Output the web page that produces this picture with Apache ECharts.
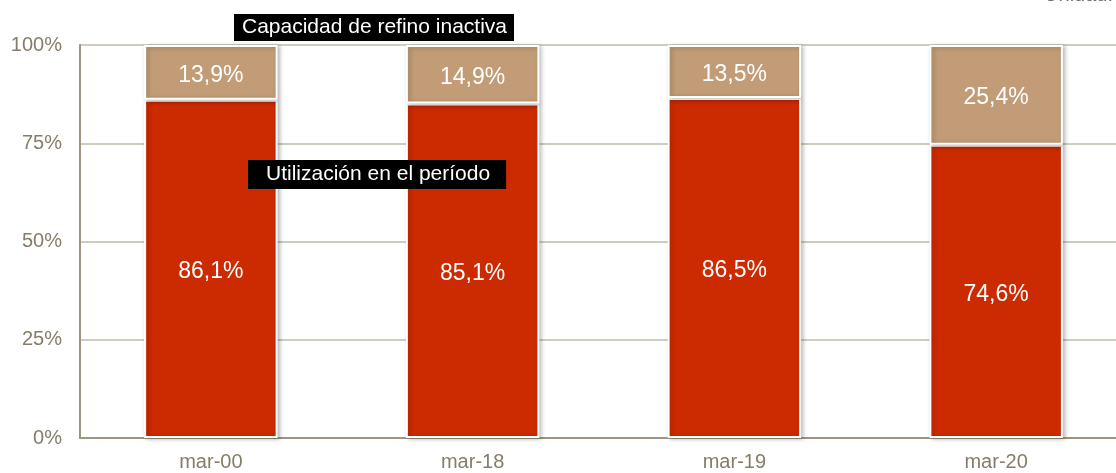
<!DOCTYPE html>
<html>
<head>
<meta charset="utf-8">
<script src="https://cdn.jsdelivr.net/npm/echarts@6/dist/echarts.min.js"></script>
<style>
html,body{margin:0;padding:0;background:#fff;}
#chart{width:1116px;height:473px;}
</style>
</head>
<body>
<div id="chart"></div>
<script>
// Refining capacity usage by period (share of total, %)
const categories = ['mar-00', 'mar-18', 'mar-19', 'mar-20'];
const utilizacion = [86.1, 85.1, 86.5, 74.6];
const inactiva = [13.9, 14.9, 13.5, 25.4];
const yTicks = [0, 25, 50, 75, 100];

const FONT = '"Liberation Sans", Arial, sans-serif';
const fmt = v => v.toFixed(1).replace('.', ',') + '%';

const barStyle = color => ({
  color: color,
  borderColor: '#ffffff',
  borderWidth: 2,
  shadowColor: 'rgba(0,0,0,0.25)',
  shadowBlur: 4,
  shadowOffsetX: 2,
  shadowOffsetY: 1
});

const valueLabel = {
  show: true, position: 'inside', color: '#ffffff', offset: [0, 3],
  fontSize: 23, fontFamily: FONT, formatter: p => fmt(p.value)
};

const chart = echarts.init(document.getElementById('chart'), null, {renderer: 'canvas'});
chart.setOption({
  animation: false,
  backgroundColor: '#ffffff',
  // plot area runs slightly past the right edge of the canvas
  grid: {left: 80, width: 1047, top: 45, bottom: 35, containLabel: false, outerBoundsMode: 'none'},
  xAxis: {
    type: 'category',
    data: categories,
    axisLine: {lineStyle: {color: '#9c957f', width: 2}},
    axisTick: {show: false},
    axisLabel: {color: '#857d69', fontSize: 20, fontFamily: FONT, margin: 14}
  },
  yAxis: {
    type: 'value',
    min: 0, max: 100, interval: 25,
    axisLine: {show: true, lineStyle: {color: '#9c957f', width: 2}},
    axisTick: {show: false},
    splitLine: {lineStyle: {color: '#cfcbc0', width: 2}},
    axisLabel: {
      color: '#857d69', fontSize: 20, fontFamily: FONT, margin: 18,
      formatter: v => yTicks.includes(v) ? v + '%' : ''
    }
  },
  series: [
    {
      name: 'Utilización en el período',
      type: 'bar',
      stack: 'total',
      barWidth: '51%',
      data: utilizacion,
      itemStyle: barStyle('#cc2a00'),
      label: valueLabel
    },
    {
      name: 'Capacidad de refino inactiva',
      type: 'bar',
      stack: 'total',
      barWidth: '51%',
      data: inactiva,
      itemStyle: barStyle('#c19c76'),
      label: valueLabel
    }
  ],
  graphic: [
    {
      type: 'text', left: 234, top: 14, z: 100,
      style: {text: 'Capacidad de refino inactiva', fill: '#ffffff', font: '21px ' + FONT,
        backgroundColor: '#000000', padding: [3, 7, 3, 8]}
    },
    {
      type: 'text', left: 248, top: 160, z: 100,
      style: {text: 'Utilización en el período', fill: '#ffffff', font: '21px ' + FONT,
        backgroundColor: '#000000', padding: [4, 16, 4, 18]}
    },
    {
      type: 'text', right: 3, top: -15, z: 100,
      style: {text: 'Unidad:', fill: '#707070', font: '20px ' + FONT}
    }
  ]
});
</script>
</body>
</html>
